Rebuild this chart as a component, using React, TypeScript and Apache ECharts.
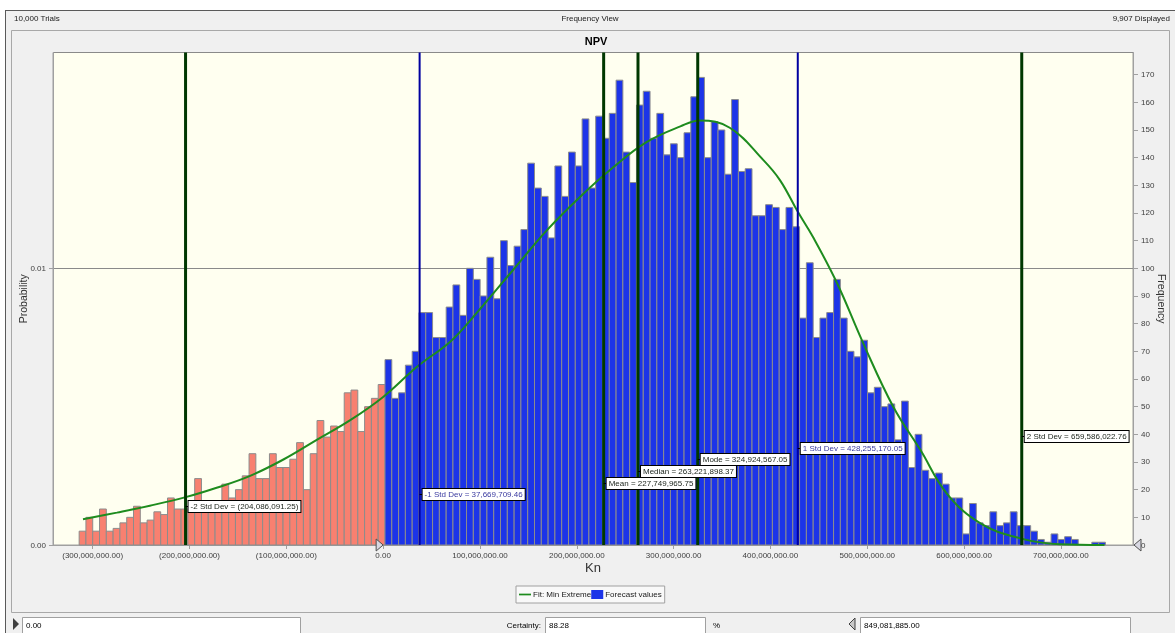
import React, { useEffect, useRef } from "react";
import * as echarts from "echarts";

const FONT = '"Liberation Sans", Arial, sans-serif';

// Header / footer texts
const trialsText = "10,000 Trials";
const viewText = "Frequency View";
const displayedText = "9,907 Displayed";
const forecastName = "NPV";
const unitName = "Kn";
const trialsCount = 10000;

// Histogram bins: left edge of the first bin, bin width, and trial count per bin
const binStart = -314.0e6;
const binWidth = 7.02e6;
const binCounts = [
  5, 10, 5, 13, 5, 6, 8, 10, 14, 8, 9, 12, 11, 17, 13, 13, 14, 24, 14, 14,
  14, 22, 17, 20, 25, 33, 24, 24, 33, 28, 28, 31, 37, 20, 33, 45, 39, 43, 41, 55,
  56, 41, 50, 53, 58,
  67, 53, 55, 65, 70, 84, 84, 75, 75, 86, 94, 83,
  100, 96, 90, 104, 89, 110, 101, 108, 114, 138, 129, 126, 111, 137, 126, 142, 137, 154, 129, 155,
  147, 156, 168, 142, 131, 159, 164, 147, 156, 141, 145, 140, 149, 162, 169, 140, 153, 150, 134, 161,
  135, 136, 119, 119, 123, 122, 114, 122, 115,
  82, 102, 75, 82, 84, 96, 82, 70, 68, 74, 55, 57, 50, 51, 38, 52, 28, 40, 27, 24,
  26, 22, 17, 17, 4, 15, 8, 7, 12, 7, 8, 12, 7, 7, 5, 2, 1, 4, 2, 3,
  2, 0, 0, 1, 1,
];

// Fitted Min Extreme curve, sampled points (value, frequency)
const fitValues = [
  -310e6, -275e6, -241e6, -204e6, -172e6, -138e6, -103e6, -69e6, -34e6, 0,
  35e6, 69e6, 90e6, 134e6, 169e6, 203e6, 238e6, 272e6, 307e6, 327e6,
  358e6, 393e6, 410e6, 428e6, 444e6, 469e6, 496e6, 527e6, 555e6, 582e6,
  617e6, 658e6, 699e6, 745e6,
];
const fitFrequencies = [
  9.3, 11.7, 14.2, 17.3, 20.7, 24.9, 30.9, 37.9, 45.1, 53.5,
  64.4, 73.4, 81.2, 99.3, 113.7, 125.7, 136.6, 145.6, 151.3, 153.4,
  150.8, 139, 131.8, 120.6, 111.3, 94.5, 72.8, 49.9, 34.3, 18.7,
  7.8, 2.4, 0.25, 0,
];

// Summary statistics marked on the chart
const statNames = ["-2 Std Dev", "-1 Std Dev", "Mean", "Median", "Mode", "1 Std Dev", "2 Std Dev"];
const statValues = [
  -204086091.25, 37669709.46, 227749965.75, 263221898.37, 324924567.05, 428255170.05, 659586022.76,
];
const statIsStdDev1 = [false, true, false, false, false, true, false];

// Certainty range
const certaintyLow = 0;
const certaintyHigh = 849081885;
const certaintyText = "88.28";

// Axis extents
const xMin = -341e6;
const xMax = 774.5e6;
const freqMax = 178;

const SALMON = "#F88070";
const BLUE = "#1C34E8";
const FIT_GREEN = "#1E8C1E";

function fmtMoney(v: number): string {
  const s = Math.abs(v).toLocaleString("en-US", {
    minimumFractionDigits: 2,
    maximumFractionDigits: 2,
  });
  return v < -1e-6 ? `(${s})` : s;
}

export default function App() {
  const ref = useRef<HTMLDivElement>(null);

  useEffect(() => {
    if (!ref.current) return;
    const chart = echarts.init(ref.current, undefined, { renderer: "svg" });

    const binData = binCounts.map((c, i) => [binStart + i * binWidth, c]);
    const fitData = fitValues.map((v, i) => [v, fitFrequencies[i]]);
    const statData = statValues.map((v, k) => [v, k]);

    const option: any = {
      animation: false,
      textStyle: { fontFamily: FONT },
      title: {
        text: forecastName,
        left: 591,
        top: 30,
        textAlign: "center",
        textStyle: { fontSize: 11, fontWeight: "bold", color: "#000", fontFamily: FONT },
      },
      grid: {
        left: 53,
        right: 42,
        top: 52.5,
        bottom: 88,
        show: true,
        containLabel: false,
        outerBoundsMode: "none",
        backgroundColor: "#FFFFF0",
        borderColor: "#a0a0a0",
        borderWidth: 1,
      },
      legend: {
        left: 516,
        top: 586,
        itemWidth: 12,
        itemHeight: 9,
        itemGap: 0,
        padding: [4, 3, 4, 3],
        borderColor: "#a0a0a0",
        borderWidth: 1,
        backgroundColor: "#f9f9f9",
        textStyle: { fontSize: 8, color: "#202020", fontFamily: FONT, padding: [0, 0, 0, -3] },
        data: [
          { name: "Fit: Min Extreme", icon: "path://M0,0 L14,0 L14,2 L0,2 Z" },
          { name: "Forecast values", icon: "rect" },
        ],
      },
      xAxis: {
        type: "value",
        min: xMin,
        max: xMax,
        splitNumber: 11,
        minInterval: 1e8,
        maxInterval: 1e8,
        name: unitName,
        nameLocation: "middle",
        nameGap: 16,
        nameMoveOverlap: false,
        nameTextStyle: { fontSize: 13, color: "#333", fontFamily: FONT },
        axisLine: { show: true, onZero: false, lineStyle: { color: "#a0a0a0" } },
        axisTick: { show: true, length: 4, lineStyle: { color: "#a0a0a0" } },
        splitLine: { show: false },
        axisLabel: {
          fontSize: 8,
          color: "#404040",
          margin: 6,
          showMinLabel: false,
          showMaxLabel: false,
          formatter: (v: number) => fmtMoney(v),
        },
      },
      yAxis: [
        {
          type: "value",
          position: "left",
          min: 0,
          max: freqMax / trialsCount,
          interval: 0.01,
          name: "Probability",
          nameLocation: "middle",
          nameGap: 25,
          nameMoveOverlap: false,
          nameTextStyle: { fontSize: 10.5, color: "#333", fontFamily: FONT },
          axisLine: { show: true, onZero: false, lineStyle: { color: "#a0a0a0" } },
          axisTick: { show: true, length: 4, lineStyle: { color: "#a0a0a0" } },
          splitLine: { show: true, lineStyle: { color: "#8a8a8a", width: 1 } },
          axisLabel: {
            fontSize: 8,
            color: "#404040",
            margin: 7,
            showMaxLabel: false,
            formatter: (v: number) => v.toFixed(2),
          },
        },
        {
          type: "value",
          position: "right",
          min: 0,
          max: freqMax,
          interval: 10,
          name: "Frequency",
          nameLocation: "middle",
          nameRotate: -90,
          nameGap: 23,
          nameMoveOverlap: false,
          nameTextStyle: { fontSize: 10.5, color: "#333", fontFamily: FONT },
          axisLine: { show: true, onZero: false, lineStyle: { color: "#a0a0a0" } },
          axisTick: { show: true, length: 5, lineStyle: { color: "#a0a0a0" } },
          splitLine: { show: false },
          axisLabel: {
            fontSize: 8,
            color: "#404040",
            margin: 8,
            showMaxLabel: false,
          },
        },
      ],
      series: [
        {
          name: "Forecast values",
          type: "custom",
          yAxisIndex: 1,
          z: 2,
          itemStyle: { color: BLUE },
          encode: { x: 0, y: 1 },
          data: binData,
          renderItem: (params: any, api: any) => {
            const left = api.value(0);
            const count = api.value(1);
            if (!count) return null;
            const p0 = api.coord([left, count]);
            const p1 = api.coord([left + binWidth, 0]);
            return {
              type: "rect",
              shape: { x: p0[0], y: p0[1], width: p1[0] - p0[0], height: p1[1] - p0[1] },
              style: {
                fill: left < certaintyLow ? SALMON : BLUE,
                stroke: "#8c8c8c",
                lineWidth: 1,
              },
            };
          },
        },
        {
          name: "Fit: Min Extreme",
          type: "line",
          yAxisIndex: 1,
          z: 3,
          smooth: 0.4,
          showSymbol: false,
          symbol: "none",
          color: FIT_GREEN,
          lineStyle: { color: FIT_GREEN, width: 2 },
          data: fitData,
        },
        {
          name: "stat-lines",
          type: "custom",
          yAxisIndex: 1,
          z: 4,
          silent: true,
          encode: { x: 0 },
          data: statData,
          renderItem: (params: any, api: any) => {
            const v = api.value(0);
            const k = api.value(1);
            const cs = params.coordSys;
            const x = api.coord([v, 0])[0];
            const sd1 = statIsStdDev1[k];
            return {
              type: "line",
              shape: { x1: x, y1: cs.y, x2: x, y2: cs.y + cs.height },
              style: { stroke: sd1 ? "#0000A0" : "#003800", lineWidth: sd1 ? 2 : 3 },
            };
          },
        },
        {
          name: "stat-labels",
          type: "custom",
          yAxisIndex: 1,
          z: 6,
          silent: true,
          encode: { x: 0 },
          data: statData,
          renderItem: (params: any, api: any) => {
            const v = api.value(0);
            const k = api.value(1);
            const cs = params.coordSys;
            const x = api.coord([v, 0])[0];
            const cy = Math.round(cs.y + cs.height - 39 - 11.7 * k) + 0.5;
            const sd1 = statIsStdDev1[k];
            return {
              type: "group",
              children: [
                {
                  type: "line",
                  shape: { x1: x, y1: cy, x2: x + 4, y2: cy },
                  style: { stroke: "#000", lineWidth: 1 },
                },
                {
                  type: "text",
                  x: x + 3,
                  y: cy,
                  style: {
                    text: `${statNames[k]} = ${fmtMoney(v)}`,
                    fontSize: 8,
                    fontFamily: FONT,
                    fill: sd1 ? "#3a3aa0" : "#202820",
                    align: "left",
                    verticalAlign: "middle",
                    backgroundColor: "#ffffff",
                    borderColor: "#000000",
                    borderWidth: 1,
                    padding: [2, 2, 1, 2],
                  },
                },
              ],
            };
          },
        },
        {
          name: "certainty-grabbers",
          type: "custom",
          yAxisIndex: 1,
          z: 6,
          silent: true,
          encode: { x: 0 },
          data: [
            [certaintyLow, 0],
            [certaintyHigh, 1],
          ],
          renderItem: (params: any, api: any) => {
            const v = api.value(0);
            const side = api.value(1);
            const cs = params.coordSys;
            let x = api.coord([v, 0])[0];
            x = Math.min(Math.max(x, cs.x), cs.x + cs.width + 1);
            const yb = cs.y + cs.height;
            const pts =
              side === 0
                ? [[x - 7, yb - 6], [x, yb], [x - 7, yb + 6]]
                : [[x + 7, yb - 6], [x, yb], [x + 7, yb + 6]];
            return {
              type: "polygon",
              shape: { points: pts },
              style: { fill: "#d8d8e2", stroke: "#505050", lineWidth: 1 },
            };
          },
        },
      ],
      graphic: [
        { type: "rect", z: -10, shape: { x: 0, y: 0, width: 1175, height: 633 }, style: { fill: "#ffffff" } },
        { type: "rect", z: -9, shape: { x: 5, y: 10, width: 1170, height: 623 }, style: { fill: "#f0f0f0" } },
        { type: "line", z: -8, shape: { x1: 5, y1: 10.5, x2: 1175, y2: 10.5 }, style: { stroke: "#5a5a5a", lineWidth: 1 } },
        { type: "line", z: -8, shape: { x1: 5.5, y1: 10, x2: 5.5, y2: 633 }, style: { stroke: "#5a5a5a", lineWidth: 1 } },
        {
          type: "rect",
          z: -7,
          shape: { x: 11.5, y: 30.5, width: 1158, height: 582 },
          style: { fill: "#f0f0f0", stroke: "#a8a8a8", lineWidth: 1 },
        },
        { type: "text", x: 14, y: 18, style: { text: trialsText, fontSize: 8, fontFamily: FONT, fill: "#202020", verticalAlign: "middle" } },
        { type: "text", x: 590, y: 18, style: { text: viewText, fontSize: 8, fontFamily: FONT, fill: "#202020", align: "center", verticalAlign: "middle" } },
        { type: "text", x: 1170, y: 18, style: { text: displayedText, fontSize: 8, fontFamily: FONT, fill: "#202020", align: "right", verticalAlign: "middle" } },
        // footer controls
        { type: "polygon", shape: { points: [[13, 618], [19, 624], [13, 630]] }, style: { fill: "#404040" } },
        { type: "rect", shape: { x: 22.5, y: 617.5, width: 278, height: 16 }, style: { fill: "#ffffff", stroke: "#a0a0a0" } },
        { type: "text", x: 26, y: 625, style: { text: fmtMoney(certaintyLow), fontSize: 8, fontFamily: FONT, fill: "#000", verticalAlign: "middle" } },
        { type: "text", x: 541, y: 625, style: { text: "Certainty:", fontSize: 8, fontFamily: FONT, fill: "#000", align: "right", verticalAlign: "middle" } },
        { type: "rect", shape: { x: 545.5, y: 617.5, width: 160, height: 16 }, style: { fill: "#ffffff", stroke: "#a0a0a0" } },
        { type: "text", x: 549, y: 625, style: { text: certaintyText, fontSize: 8, fontFamily: FONT, fill: "#000", verticalAlign: "middle" } },
        { type: "text", x: 713, y: 625, style: { text: "%", fontSize: 8, fontFamily: FONT, fill: "#000", verticalAlign: "middle" } },
        { type: "polygon", shape: { points: [[855, 618], [849, 624], [855, 630]] }, style: { fill: "#c8c8c8", stroke: "#404040" } },
        { type: "rect", shape: { x: 860.5, y: 617.5, width: 270, height: 16 }, style: { fill: "#ffffff", stroke: "#a0a0a0" } },
        { type: "text", x: 864, y: 625, style: { text: fmtMoney(certaintyHigh), fontSize: 8, fontFamily: FONT, fill: "#000", verticalAlign: "middle" } },
      ],
    };

    chart.setOption(option);
    return () => chart.dispose();
  }, []);

  return (
    <div
      ref={ref}
      style={{ position: "fixed", left: 0, top: 0, width: 1175, height: 633 }}
    />
  );
}
